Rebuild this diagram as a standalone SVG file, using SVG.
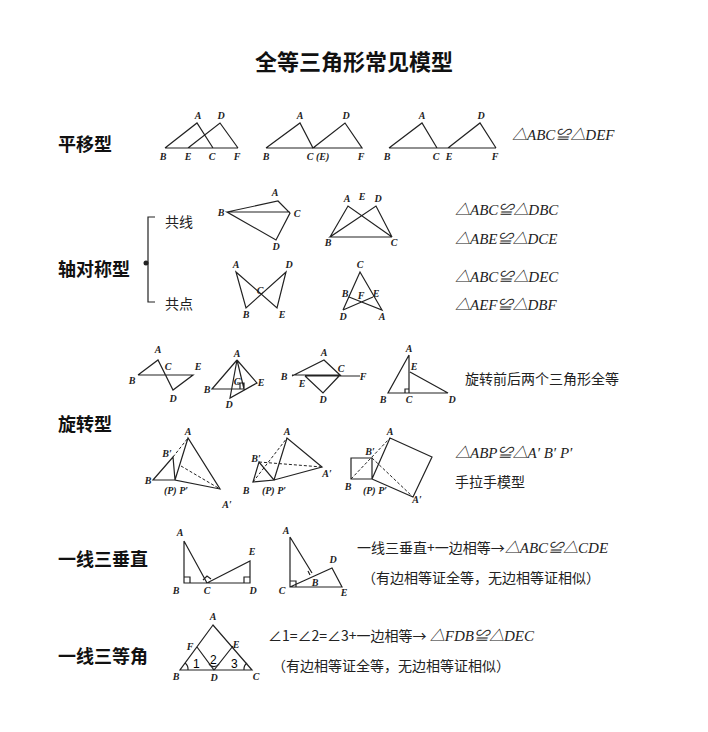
<svg xmlns="http://www.w3.org/2000/svg" width="708" height="732" viewBox="0 0 708 732">
<style>
.l{stroke:#222;stroke-width:1.2;fill:none}
.d{stroke:#222;stroke-width:1;fill:none;stroke-dasharray:3 2}
.p{font-family:"Liberation Serif",serif;font-style:italic;font-weight:bold;font-size:10px;fill:#222;text-anchor:middle}
.h{font-family:"Noto Sans CJK SC",sans-serif;font-weight:bold;font-size:18px;fill:#111}
.t{font-family:"Liberation Serif","Noto Sans CJK SC",serif;font-style:italic;font-size:15px;fill:#222}
.c{font-family:"Noto Sans CJK SC",sans-serif;font-size:14px;fill:#222}
</style>
<rect width="708" height="732" fill="#fff"/>
<text x="354" y="70" text-anchor="middle" font-family="Noto Sans CJK SC,sans-serif" font-weight="bold" font-size="22" fill="#111">全等三角形常见模型</text>
<g id="labels">
<text class="h" x="58" y="151">平移型</text>
<text class="h" x="58" y="276">轴对称型</text>
<text class="h" x="58" y="431">旋转型</text>
<text class="h" x="58" y="566">一线三垂直</text>
<text class="h" x="58" y="663">一线三等角</text>
<text class="c" x="165" y="227">共线</text>
<text class="c" x="165" y="309">共点</text>
<path class="l" d="M155 217H148V302H155"/><circle cx="146" cy="263" r="2.5" fill="#222"/>
</g>
<g id="translation">
<path class="l" d="M165 148L197 123L213 148M188 148L220 123L238 148M165 148H238"/>
<path class="l" d="M266 148L300 123L313 148L345 123L362 148H266"/>
<path class="l" d="M389 148L422 123L437 148M448 148L480 123L496 148M389 148H496"/>
<g class="p"><text x="198" y="119">A</text><text x="221" y="119">D</text><text x="163" y="160">B</text><text x="188" y="160">E</text><text x="212" y="160">C</text><text x="237" y="160">F</text>
<text x="300" y="119">A</text><text x="346" y="119">D</text><text x="266" y="160">B</text><text x="318" y="160">C (E)</text><text x="361" y="160">F</text>
<text x="422" y="119">A</text><text x="481" y="119">D</text><text x="387" y="160">B</text><text x="436" y="160">C</text><text x="449" y="160">E</text><text x="495" y="160">F</text></g>
<text class="t" x="512" y="140">△ABC≌△DEF</text>
</g>
<g id="axial">
<path class="l" d="M227 212L278 201L290 213L276 240L227 212H290"/>
<path class="l" d="M330 237L348 206L392 237L376 206L330 237H392"/>
<path class="l" d="M236 272L277 308L286 272L246 308Z"/>
<path class="l" d="M343 310L360 272L382 310L349 297M343 310L373 297"/>
<g class="p"><text x="275" y="196">A</text><text x="221" y="216">B</text><text x="297" y="217">C</text><text x="276" y="250">D</text>
<text x="347" y="202">A</text><text x="378" y="202">D</text><text x="362" y="200">E</text><text x="328" y="246">B</text><text x="394" y="246">C</text>
<text x="236" y="268">A</text><text x="289" y="268">D</text><text x="260" y="294">C</text><text x="246" y="318">B</text><text x="282" y="318">E</text>
<text x="360" y="268">C</text><text x="345" y="297">B</text><text x="361" y="299">F</text><text x="376" y="297">E</text><text x="343" y="320">D</text><text x="382" y="320">A</text></g>
<text class="t" x="455" y="215">△ABC≌△DBC</text><text class="t" x="455" y="244">△ABE≌△DCE</text>
<text class="t" x="455" y="282">△ABC≌△DEC</text><text class="t" x="455" y="310">△AEF≌△DBF</text>
</g>
<g id="rotation">
<path class="l" d="M138 375L158 360L173 390L193 375H138"/>
<path class="l" d="M237 360L212 389H244L237 360L257 383L230 398L237 360M240 383V389M237 383H244V389"/>
<path class="l" d="M292 376L324 360L340 375H292M305 376H360M305 376L323 393L340 375"/>
<path class="l" d="M409 355L388 393H448L410 372M409 355V393M405 393V389H409"/>
<path class="l" d="M153 480L173 457L175 480ZM175 480L188 438L220 489Z"/>
<path class="d" d="M173 457L188 438M181 466L220 489"/>
<path class="l" d="M253 482L259 462L274 480ZM274 480L287 438L322 467Z"/>
<path class="d" d="M259 462L322 467M253 482L287 438"/>
<path class="l" d="M351 458H372V479H351ZM372 479L390 438L432 457L413 497Z"/>
<path class="d" d="M351 479L390 438M372 458L413 497"/>
<g class="p"><text x="158" y="353">A</text><text x="132" y="384">B</text><text x="168" y="370">C</text><text x="198" y="370">E</text><text x="173" y="402">D</text>
<text x="237" y="357">A</text><text x="207" y="393">B</text><text x="237" y="385">C</text><text x="261" y="386">E</text><text x="229" y="408">D</text>
<text x="324" y="356">A</text><text x="284" y="380">B</text><text x="341" y="372">C</text><text x="363" y="380">F</text><text x="302" y="387">E</text><text x="323" y="403">D</text>
<text x="409" y="352">A</text><text x="414" y="370">E</text><text x="383" y="403">B</text><text x="409" y="403">C</text><text x="452" y="403">D</text>
<text x="188" y="435">A</text><text x="167" y="457">B′</text><text x="148" y="484">B</text><text x="176" y="494">(P) P′</text><text x="227" y="508">A′</text>
<text x="287" y="435">A</text><text x="256" y="462">B′</text><text x="246" y="494">B</text><text x="274" y="494">(P) P′</text><text x="327" y="477">A′</text>
<text x="390" y="435">A</text><text x="370" y="455">B′</text><text x="348" y="490">B</text><text x="375" y="494">(P) P′</text><text x="417" y="503">A′</text></g>
<text class="c" x="465" y="384">旋转前后两个三角形全等</text>
<text class="t" x="455" y="458">△ABP≌△A′ B′ P′</text>
<text class="c" x="455" y="487">手拉手模型</text>
</g>
<g id="perp">
<path class="l" d="M184 541V583H250V561L207 583L184 541M184 577H190V583M244 583V577H250M203 580L207 576L211 579"/>
<path class="l" d="M290 537V587H342L332 568L290 587M312 573L290 537M290 581H296V587M308 571L310 575"/>
<g class="p"><text x="180" y="536">A</text><text x="176" y="594">B</text><text x="207" y="594">C</text><text x="253" y="594">D</text><text x="252" y="555">E</text>
<text x="286" y="534">A</text><text x="282" y="594">C</text><text x="315" y="586">B</text><text x="333" y="563">D</text><text x="344" y="596">E</text></g>
<text class="c" x="357" y="553">一线三垂直+一边相等→<tspan class="t">△ABC≌△CDE</tspan></text>
<text class="c" x="362" y="583">（有边相等证全等，无边相等证相似）</text>
</g>
<g id="angle">
<path class="l" d="M213 625L180 670H252ZM197 647L214 670L233 646"/>
<path class="l" d="M188 670A8 8 0 0 0 185 663M244 670A8 8 0 0 1 247 663M209 664A6 6 0 0 0 219 664"/>
<text x="193" y="668" font-family="Liberation Sans,sans-serif" font-size="12">1</text>
<text x="210" y="664" font-family="Liberation Sans,sans-serif" font-size="12">2</text>
<text x="231" y="668" font-family="Liberation Sans,sans-serif" font-size="12">3</text>
<g class="p"><text x="213" y="620">A</text><text x="190" y="650">F</text><text x="236" y="648">E</text><text x="176" y="680">B</text><text x="214" y="681">D</text><text x="256" y="680">C</text></g>
<text class="c" x="268" y="641">∠1=∠2=∠3+一边相等→ <tspan class="t">△FDB≌△DEC</tspan></text>
<text class="c" x="272" y="671">（有边相等证全等，无边相等证相似）</text>
</g>
</svg>
